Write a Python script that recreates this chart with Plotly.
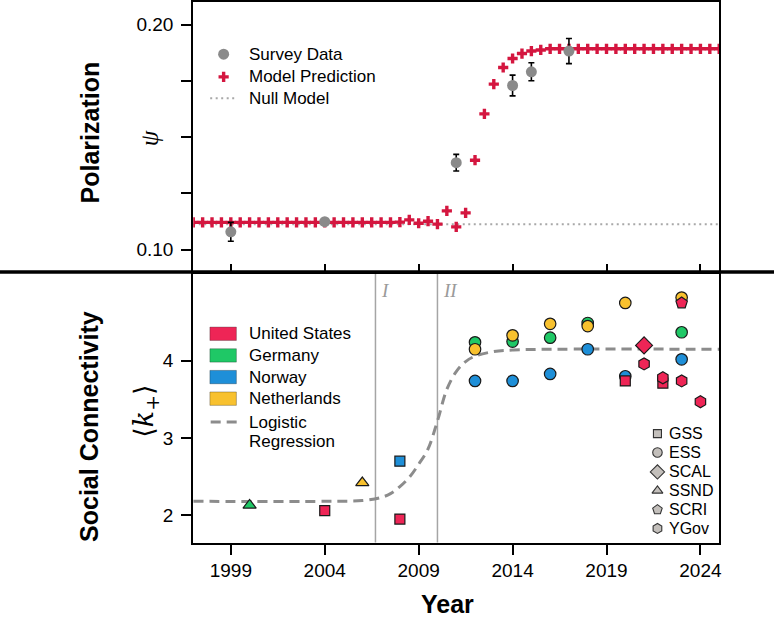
import plotly.graph_objects as go

W, H = 777, 619

# ---------------- data: top panel (polarization) ----------------
survey_years = [1999, 2004, 2011, 2014, 2015, 2017]
survey_psi = [0.1079, 0.1124, 0.1386, 0.1729, 0.1790, 0.1882]
survey_err = [0.0042, 0.0010, 0.0037, 0.0046, 0.0040, 0.0056]

model_years = [1997.0, 1997.5, 1998.0, 1998.5, 1999.0, 1999.5, 2000.0, 2000.5,
               2001.0, 2001.5, 2002.0, 2002.5, 2003.0, 2003.5, 2004.0, 2004.5,
               2005.0, 2005.5, 2006.0, 2006.5, 2007.0, 2007.5, 2008.0, 2008.5,
               2009.0, 2009.5, 2010.0, 2010.5, 2011.0, 2011.5, 2012.0, 2012.5,
               2013.0, 2013.5, 2014.0, 2014.5, 2015.0, 2015.5, 2016.0, 2016.5,
               2017.0, 2017.5, 2018.0, 2018.5, 2019.0, 2019.5, 2020.0, 2020.5,
               2021.0, 2021.5, 2022.0, 2022.5, 2023.0, 2023.5, 2024.0, 2024.5,
               2025.0]
model_psi = [0.1121, 0.1121, 0.1121, 0.1121, 0.1121, 0.1121, 0.1121, 0.1121,
             0.1121, 0.1121, 0.1121, 0.1121, 0.1121, 0.1121, 0.1121, 0.1121,
             0.1121, 0.1121, 0.1121, 0.1121, 0.1121, 0.1121, 0.1122, 0.1132,
             0.1117, 0.1126, 0.1113, 0.1172, 0.1101, 0.1163, 0.1397, 0.1603,
             0.1735, 0.1809, 0.1849, 0.1871, 0.1882, 0.1887, 0.1892, 0.1892,
             0.1892, 0.1892, 0.1892, 0.1892, 0.1892, 0.1892, 0.1892, 0.1892,
             0.1892, 0.1892, 0.1892, 0.1892, 0.1892, 0.1892, 0.1892, 0.1892,
             0.1892]

null_years = [1997, 2025]
null_psi = [0.1113, 0.1113]

psi_ticks = [0.10, 0.20]
psi_minor_ticks = [0.125, 0.15, 0.175]

# ---------------- data: bottom panel (social connectivity) ----------------
reg_years = [1997, 2004, 2006, 2007, 2007.5, 2008, 2008.5, 2009, 2009.5, 2010,
             2010.5, 2011, 2011.5, 2012, 2013, 2014, 2016, 2025]
reg_k = [2.18, 2.18, 2.19, 2.23, 2.28, 2.37, 2.49, 2.66, 2.86, 3.22,
         3.63, 3.86, 3.99, 4.06, 4.12, 4.14, 4.15, 4.15]

# ESS (circles)
de_ess_years = [2012, 2014, 2016, 2018, 2023]
de_ess_k = [4.24, 4.25, 4.30, 4.49, 4.37]
no_ess_years = [2012, 2014, 2016, 2018, 2020, 2023]
no_ess_k = [3.74, 3.74, 3.83, 4.15, 3.80, 4.02]
nl_ess_years = [2012, 2014, 2016, 2018, 2020, 2023]
nl_ess_k = [4.15, 4.33, 4.48, 4.45, 4.75, 4.82]
# GSS (squares)
us_gss_years = [2004, 2008, 2020, 2022]
us_gss_k = [2.06, 1.95, 3.74, 3.71]
no_gss_years = [2008]
no_gss_k = [2.70]
# SCAL (diamond)
us_scal_years = [2021]
us_scal_k = [4.20]
# SSND (triangles)
de_ssnd_years = [2000]
de_ssnd_k = [2.13]
nl_ssnd_years = [2006]
nl_ssnd_k = [2.42]
# SCRI (pentagon)
us_scri_years = [2023]
us_scri_k = [4.75]
# YGov (hexagons)
us_ygov_years = [2021, 2022, 2023, 2024]
us_ygov_k = [3.96, 3.78, 3.74, 3.47]

k_ticks = [2, 3, 4]
phase_years = [2006.7, 2010]
phase_labels = ["I", "II"]

countries = ["United States", "Germany", "Norway", "Netherlands"]
surveys = ["GSS", "ESS", "SCAL", "SSND", "SCRI", "YGov"]
year_ticks = [1999, 2004, 2009, 2014, 2019, 2024]

# ---------------- styles ----------------
C_US = "#EE2556"
C_DE = "#1FC866"
C_NO = "#1E8FD8"
C_NL = "#F8C12E"
C_PLUS = "#D4163F"
C_SURVEY = "#8A8A8A"
country_colors = [C_US, C_DE, C_NO, C_NL]
SANS = "Liberation Sans, Arial, Helvetica, sans-serif"
SERIF = "Liberation Serif, DejaVu Serif, serif"

symbol_of = {"GSS": "square", "ESS": "circle", "SCAL": "diamond",
             "SSND": "triangle-up", "SCRI": "pentagon", "YGov": "hexagon"}
size_of = {"GSS": 10, "ESS": 11.5, "SCAL": 13, "SSND": 11.5, "SCRI": 12, "YGov": 12}

fig = go.Figure()

# top panel
fig.add_trace(go.Scatter(x=null_years, y=null_psi, mode="lines",
                         line=dict(color="#A8A8A8", width=2, dash="2px,3.5px"),
                         xaxis="x2", yaxis="y2", showlegend=False, hoverinfo="skip"))
fig.add_trace(go.Scatter(x=model_years, y=model_psi, mode="markers",
                         marker=dict(symbol="cross", size=8.5, color=C_PLUS, line=dict(width=0)),
                         xaxis="x2", yaxis="y2", showlegend=False))
fig.add_trace(go.Scatter(x=survey_years, y=survey_psi, mode="markers",
                         marker=dict(symbol="circle", size=11, color=C_SURVEY, line=dict(width=0)),
                         error_y=dict(type="data", array=survey_err, color="black",
                                      thickness=1.6, width=3),
                         xaxis="x2", yaxis="y2", showlegend=False))

# bottom panel: logistic regression
fig.add_trace(go.Scatter(x=reg_years, y=reg_k, mode="lines", line_shape="spline",
                         line=dict(color="#8C8C8C", width=3, dash="10px,6px"),
                         xaxis="x", yaxis="y", showlegend=False, hoverinfo="skip"))

groups = [
    ("ESS", de_ess_years, de_ess_k, C_DE),
    ("ESS", no_ess_years, no_ess_k, C_NO),
    ("ESS", nl_ess_years, nl_ess_k, C_NL),
    ("GSS", us_gss_years, us_gss_k, C_US),
    ("GSS", no_gss_years, no_gss_k, C_NO),
    ("SCAL", us_scal_years, us_scal_k, C_US),
    ("SSND", de_ssnd_years, de_ssnd_k, C_DE),
    ("SSND", nl_ssnd_years, nl_ssnd_k, C_NL),
    ("SCRI", us_scri_years, us_scri_k, C_US),
    ("YGov", us_ygov_years, us_ygov_k, C_US),
]
for sv, xs, ys, col in groups:
    fig.add_trace(go.Scatter(x=xs, y=ys, mode="markers",
                             marker=dict(symbol=symbol_of[sv], size=size_of[sv], color=col,
                                         line=dict(color="#1a1a1a", width=1.2)),
                             xaxis="x", yaxis="y", showlegend=False))

# ---------------- legends (drawn in a transparent pixel overlay) ----------------
def px(x):
    return x / W

def py(y):
    return 1 - y / H

fig.add_trace(go.Scatter(x=[224.5], y=[53.3], mode="markers",
                         marker=dict(symbol="circle", size=11, color=C_SURVEY),
                         xaxis="x3", yaxis="y3", showlegend=False, hoverinfo="skip"))
fig.add_trace(go.Scatter(x=[224.5], y=[76], mode="markers",
                         marker=dict(symbol="cross", size=8.5, color=C_PLUS, line=dict(width=0)),
                         xaxis="x3", yaxis="y3", showlegend=False, hoverinfo="skip"))
fig.add_trace(go.Scatter(x=[211, 237], y=[97.3, 97.3], mode="lines",
                         line=dict(color="#A8A8A8", width=2, dash="2px,3.5px"),
                         xaxis="x3", yaxis="y3", showlegend=False, hoverinfo="skip"))
shape_rows = [433.3, 452.3, 471.7, 490.5, 509.5, 528.3]
for sv, ry in zip(surveys, shape_rows):
    fig.add_trace(go.Scatter(x=[660], y=[ry], mode="markers",
                             marker=dict(symbol=symbol_of[sv], size=size_of[sv] - 2,
                                         color="#C3BFBB", line=dict(color="#333333", width=1.1)),
                             xaxis="x3", yaxis="y3", showlegend=False, hoverinfo="skip"))

annotations = []
shapes = []


def label(text, x, y, size, family=SANS, xanchor="left", angle=0, color="black"):
    return dict(text=text, x=px(x), y=py(y), xref="paper", yref="paper",
                xanchor=xanchor, yanchor="middle", textangle=angle, showarrow=False,
                font=dict(family=family, size=size, color=color))


top_legend_text = ["Survey Data", "Model Prediction", "Null Model"]
for t, ry in zip(top_legend_text, [53.3, 76, 97.3]):
    annotations.append(label(t, 247.5, ry, 17))

for sv, ry in zip(surveys, shape_rows):
    annotations.append(label(sv, 669.5, ry, 16))

country_rows = [333.3, 355.0, 376.7, 398.3]
for name, col, ry in zip(countries, country_colors, country_rows):
    shapes.append(dict(type="rect", xref="paper", yref="paper",
                       x0=px(210.7), x1=px(237.3), y0=py(ry - 6.7), y1=py(ry + 6.7),
                       fillcolor=col, line=dict(color="rgba(0,0,0,0.35)", width=0.8)))
    annotations.append(label(name, 247.5, ry, 17))
shapes.append(dict(type="line", xref="paper", yref="paper",
                   x0=px(211.5), x1=px(238), y0=py(421.7), y1=py(421.7),
                   line=dict(color="#8C8C8C", width=3, dash="10px,6px")))
annotations.append(label("Logistic", 247.5, 421.7, 17))
annotations.append(label("Regression", 247.5, 441.7, 17))

for yr, lab in zip(phase_years, phase_labels):
    shapes.append(dict(type="line", xref="x", yref="y domain", x0=yr, x1=yr, y0=0, y1=1,
                       line=dict(color="#A5A5A5", width=1.5), layer="below"))
    annotations.append(dict(text="<i>" + lab + "</i>", x=yr, y=py(290), xref="x", yref="paper",
                            xanchor="left", yanchor="middle", xshift=4, showarrow=False,
                            font=dict(family=SERIF, size=19, color="#9A9A9A")))

Y_DIV = py(271.5)
shapes.append(dict(type="line", xref="paper", yref="paper", x0=0, x1=1, y0=Y_DIV, y1=Y_DIV,
                   line=dict(color="black", width=3.5), layer="above"))

annotations += [
    label("<b>Polarization</b>", 90, 132, 25, xanchor="center", angle=-90),
    label("<b>Social Connectivity</b>", 90, 426, 25, xanchor="center", angle=-90),
    label("<i>ψ</i>", 150, 137, 25, family=SERIF, xanchor="center", angle=-90),
    label("⟨<i>k</i><sub>+</sub>⟩", 146, 411, 27, family="DejaVu Serif, serif",
          xanchor="center", angle=-90),
    label("<b>Year</b>", 449, 604, 25, xanchor="center"),
]

XD = [px(194), px(722)]
axis_common = dict(showgrid=False, zeroline=False, showline=True, linecolor="black",
                   linewidth=2, tickcolor="black", tickwidth=2,
                   tickfont=dict(family=SANS, size=19, color="black"))

fig.update_layout(
    width=W, height=H, margin=dict(l=0, r=0, t=0, b=0),
    paper_bgcolor="white", plot_bgcolor="rgba(0,0,0,0)", showlegend=False,
    xaxis=dict(domain=XD, range=[1997, 2025], anchor="y", tickvals=year_ticks,
               ticks="outside", ticklen=10, mirror=False, **axis_common),
    yaxis=dict(domain=[py(542.5), Y_DIV], range=[1.645, 5.15], anchor="x",
               tickvals=k_ticks, ticks="outside", ticklen=10, mirror=True,
               ticklabelstandoff=4, **axis_common),
    xaxis2=dict(domain=XD, range=[1997, 2025], anchor="y2", tickvals=year_ticks,
                ticks="inside", ticklen=8, showticklabels=False, mirror=True, **axis_common),
    yaxis2=dict(domain=[Y_DIV, py(1)], range=[0.09, 0.21], anchor="x2",
                tickvals=psi_ticks, tickformat=".2f",
                minor=dict(tickvals=psi_minor_ticks, ticks="outside", ticklen=10,
                           tickwidth=2, tickcolor="black", showgrid=False),
                ticks="outside", ticklen=10, mirror=True, ticklabelstandoff=4, **axis_common),
    xaxis3=dict(domain=[0, 1], range=[0, W], anchor="y3", visible=False, fixedrange=True),
    yaxis3=dict(domain=[0, 1], range=[H, 0], anchor="x3", visible=False, fixedrange=True),
    shapes=shapes, annotations=annotations,
)

fig.write_html("out.html", config={"displayModeBar": False},
               post_script="document.body.style.margin='0px';")
